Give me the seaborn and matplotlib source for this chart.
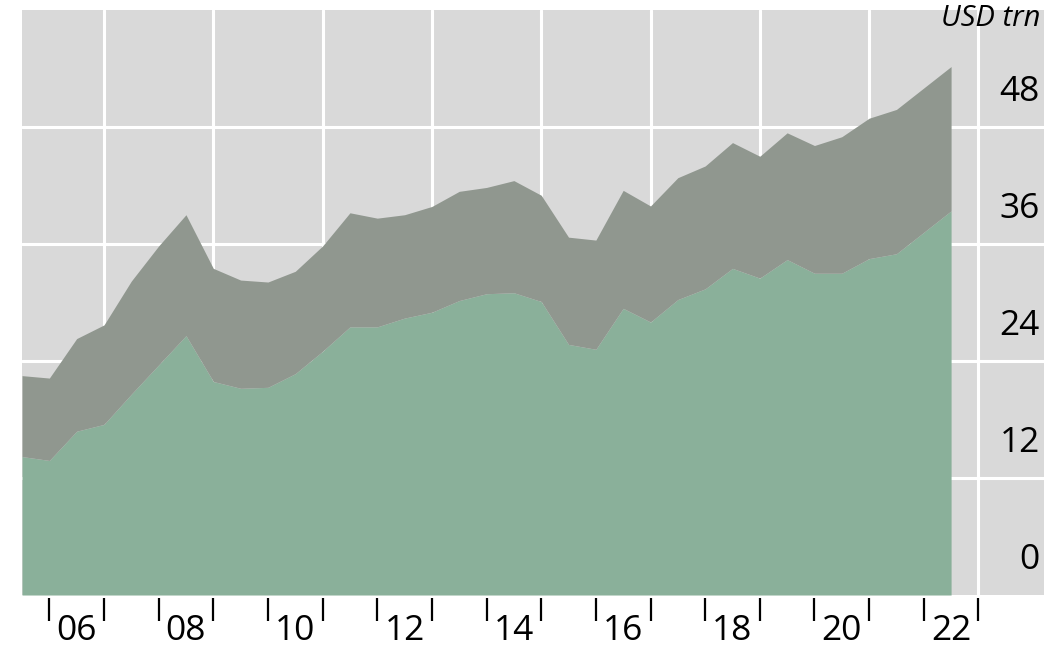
import numpy as np
import seaborn as sns
import matplotlib.pyplot as plt
import matplotlib.transforms as mtransforms

# Half-year periods, from mid-2005 to mid-2022
periods = np.arange(2005.5, 2023.0, 0.5)

# Lower (green) band, USD trn
lower = [14.2, 13.8, 16.8, 17.5, 20.6, 23.6, 26.6, 21.9, 21.2, 21.3,
         22.7, 25.0, 27.5, 27.5, 28.4, 29.0, 30.2, 30.9, 31.0, 30.1,
         25.7, 25.2, 29.4, 28.0, 30.3, 31.4, 33.5, 32.5, 34.4, 33.0,
         33.0, 34.5, 35.0, 37.2, 39.4]

# Total (top of the grey band), USD trn
total = [22.5, 22.25, 26.3, 27.7, 32.2, 35.8, 39.0, 33.5, 32.3, 32.1,
         33.2, 35.8, 39.2, 38.65, 39.0, 39.85, 41.4, 41.8, 42.5, 41.0,
         36.7, 36.4, 41.5, 39.9, 42.8, 44.0, 46.4, 45.0, 47.4, 46.1,
         47.0, 48.9, 49.8, 52.0, 54.2]

upper = [t - l for t, l in zip(total, lower)]

year_ticks = list(range(2006, 2024))
label_years = [2006, 2008, 2010, 2012, 2014, 2016, 2018, 2020, 2022]
year_labels = ['06', '08', '10', '12', '14', '16', '18', '20', '22']
y_values = [0, 12, 24, 36, 48]

sns.set_theme(style='white', rc={'axes.facecolor': '#d9d9d9'})
plt.rcParams['font.family'] = ['Open Sans', 'DejaVu Sans']

fig = plt.figure(figsize=(10.64, 6.52), dpi=100)
ax = fig.add_axes([0.0207, 0.0874, 0.9605, 0.8973])

# white grid behind the areas
for y in y_values[1:]:
    ax.axhline(y, color='white', lw=2.2, zorder=1)
for x in year_ticks[1::2]:
    ax.axvline(x, color='white', lw=2.2, zorder=1)

ax.stackplot(periods, lower, upper, colors=['#8ab09a', '#90978f'],
             linewidth=0, zorder=2)

ax.set_xlim(2005.5, 2024.2)
ax.set_ylim(0, 60)

for s in ax.spines.values():
    s.set_visible(False)
ax.spines['bottom'].set_position(('outward', 2))

# year boundary tick marks, labels at mid-year
ax.set_xticks(year_ticks)
ax.set_xticklabels([])
ax.tick_params(axis='x', which='major', bottom=True, length=16.5, width=1.6,
               color='black')
ax.set_xticks([y + 0.5 for y in label_years], minor=True)
ax.set_xticklabels(year_labels, minor=True, fontsize=25.5)
ax.tick_params(axis='x', which='minor', bottom=True, length=0, pad=12,
               labelcolor='black')
ax.set_yticks([])

# y labels sit inside the plot, above their grid lines
trans = mtransforms.blended_transform_factory(ax.transAxes, ax.transData)
for v in y_values:
    ax.text(0.996, v + 3.6, str(v), transform=trans, ha='right', va='center',
            fontsize=25.5, color='black', zorder=3)

fig.text(1040 / 1064, 1 - 18 / 652, 'USD trn', ha='right', va='center',
         fontsize=21, style='italic', color='black')

plt.savefig('out.png', dpi=100)
